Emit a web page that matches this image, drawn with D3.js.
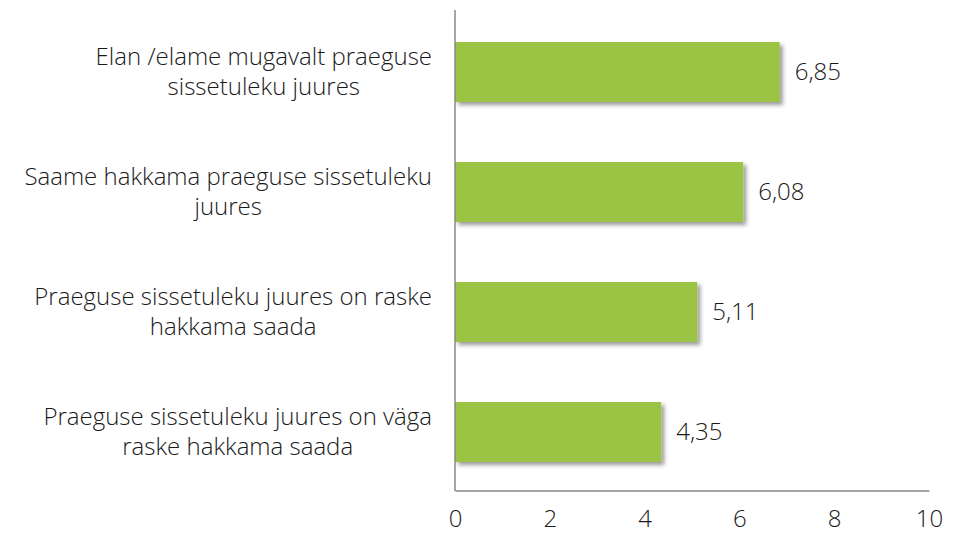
<!DOCTYPE html>
<html>
<head>
<meta charset="utf-8">
<script src="https://cdn.jsdelivr.net/npm/d3@7"></script>
<style>
  body { margin: 0; background: #fff; }
  text { font-family: "Open Sans", "Noto Sans", sans-serif; font-weight: 300; fill: #1a1a1a; }
</style>
</head>
<body>
<svg id="chart"></svg>
<script>
var categories = [
  ["Elan /elame mugavalt praeguse", "sissetuleku juures"],
  ["Saame hakkama praeguse sissetuleku", "juures"],
  ["Praeguse sissetuleku juures on raske", "hakkama saada"],
  ["Praeguse sissetuleku juures on väga", "raske hakkama saada"]
];
var values = [6.85, 6.08, 5.11, 4.35];
var labels = ["6,85", "6,08", "5,11", "4,35"];
var ticks = [0, 2, 4, 6, 8, 10];

var width = 960, height = 535;
var svg = d3.select("#chart").attr("width", width).attr("height", height);

var defs = svg.append("defs");
var f = defs.append("filter").attr("id", "shadow")
    .attr("x", "-5%").attr("y", "-20%").attr("width", "115%").attr("height", "150%");
f.append("feDropShadow").attr("dx", 3).attr("dy", 3).attr("stdDeviation", 2)
    .attr("flood-color", "#000").attr("flood-opacity", 0.4);

var x = d3.scaleLinear().domain([0, 10]).range([455, 929]);
var y = d3.scaleBand().domain(d3.range(values.length))
    .range([12, 492]).paddingInner(0.5).paddingOuter(0.25);

// bars
svg.selectAll("rect.bar")
    .data(values)
  .enter().append("rect")
    .attr("class", "bar")
    .attr("x", x(0))
    .attr("y", function(d, i) { return y(i); })
    .attr("width", function(d) { return x(d) - x(0); })
    .attr("height", y.bandwidth())
    .style("fill", "#9bc444")
    .attr("filter", "url(#shadow)");

// value labels
svg.selectAll("text.val")
    .data(values)
  .enter().append("text")
    .attr("class", "val")
    .attr("x", function(d) { return x(d) + 15; })
    .attr("y", function(d, i) { return y(i) + y.bandwidth() / 2; })
    .attr("dy", "0.35em")
    .style("font-size", "24px")
    .text(function(d, i) { return labels[i]; });

// category labels: lines centred on each other, block right-aligned at 432
var cat = svg.selectAll("text.cat")
    .data(categories)
  .enter().append("text")
    .attr("class", "cat")
    .attr("text-anchor", "middle")
    .style("font-size", "24px")
    .attr("y", function(d, i) { return y(i) + y.bandwidth() / 2; });
cat.selectAll("tspan")
    .data(function(d) { return d; })
  .enter().append("tspan")
    .attr("dy", function(d, j) { return j === 0 ? "-0.3em" : "1.25em"; })
    .text(function(d) { return d; });
cat.each(function() {
  var t = d3.select(this);
  var w = d3.max(t.selectAll("tspan").nodes(), function(n) { return n.getComputedTextLength(); });
  t.selectAll("tspan").attr("x", 432 - w / 2);
});

// axes
var xAxis = d3.axisBottom(x).tickValues(ticks).tickSize(0).tickPadding(19)
    .tickFormat(d3.format("d"));
var gx = svg.append("g").attr("transform", "translate(0,490.5)").call(xAxis);
gx.select(".domain").attr("stroke", "#888").attr("stroke-width", 1.5);
gx.selectAll("text").style("font-size", "24px").attr("fill", "#1a1a1a")
    .style("font-family", "\"Open Sans\", sans-serif");

svg.append("line")
    .attr("x1", x(0)).attr("x2", x(0))
    .attr("y1", 10).attr("y2", 491)
    .attr("stroke", "#888").attr("stroke-width", 1.5);
</script>
</body>
</html>
